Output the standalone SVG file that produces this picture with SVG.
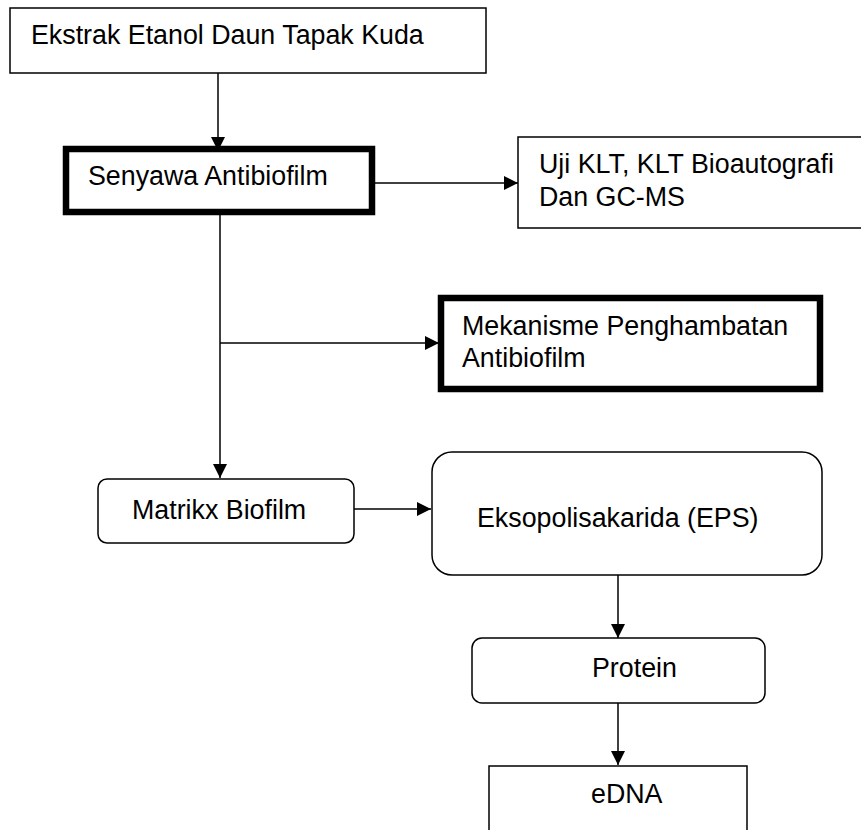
<svg xmlns="http://www.w3.org/2000/svg" width="861" height="830" viewBox="0 0 861 830">
<defs>
<style>
.box{fill:#fff;stroke:#000;stroke-width:1.5}
.thick{fill:#fff;stroke:#000;stroke-width:6.5}
.lbl{font-family:"Liberation Sans",Arial,sans-serif;font-size:26.8px;fill:#000}
.con{fill:none;stroke:#000;stroke-width:1.5}
</style>
<marker id="ah" markerUnits="userSpaceOnUse" markerWidth="15" markerHeight="15" refX="14" refY="7.5" orient="auto">
<path d="M0,0.5 L14,7.5 L0,14.5 z" fill="#000"/>
</marker>
</defs>
<rect width="861" height="830" fill="#fff"/>
<g id="connectors">
<line class="con" x1="218" y1="73" x2="218" y2="151" marker-end="url(#ah)"/>
<line class="con" x1="375" y1="183" x2="518" y2="183" marker-end="url(#ah)"/>
<line class="con" x1="220" y1="215" x2="220" y2="478" marker-end="url(#ah)"/>
<line class="con" x1="220" y1="343" x2="439" y2="343" marker-end="url(#ah)"/>
<line class="con" x1="354" y1="509" x2="431" y2="509" marker-end="url(#ah)"/>
<line class="con" x1="618" y1="575" x2="618" y2="638" marker-end="url(#ah)"/>
<line class="con" x1="618" y1="703" x2="618" y2="765" marker-end="url(#ah)"/>
</g>
<g id="ekstrak">
<rect class="box" x="10" y="8" width="476" height="65"/>
<text class="lbl" x="31" y="44">Ekstrak Etanol Daun Tapak Kuda</text>
</g>
<g id="senyawa">
<rect class="thick" x="66" y="149" width="306" height="63"/>
<text class="lbl" x="88" y="185">Senyawa Antibiofilm</text>
</g>
<g id="uji">
<rect class="box" x="518" y="137" width="360" height="91"/>
<text class="lbl" x="539" y="173">Uji KLT, KLT Bioautografi</text>
<text class="lbl" x="539" y="206">Dan GC-MS</text>
</g>
<g id="mekanisme">
<rect class="thick" x="441" y="298" width="379" height="91"/>
<text class="lbl" x="462" y="335">Mekanisme Penghambatan</text>
<text class="lbl" x="462" y="367">Antibiofilm</text>
</g>
<g id="matrikx">
<rect class="box" x="98" y="479" width="256" height="64" rx="9"/>
<text class="lbl" x="132" y="519">Matrikx Biofilm</text>
</g>
<g id="eps">
<rect class="box" x="432" y="452" width="390" height="123" rx="20"/>
<text class="lbl" x="477" y="527">Eksopolisakarida (EPS)</text>
</g>
<g id="protein">
<rect class="box" x="472" y="638" width="293" height="65" rx="10"/>
<text class="lbl" x="592" y="677">Protein</text>
</g>
<g id="edna">
<rect class="box" x="489" y="766" width="258" height="90"/>
<text class="lbl" x="591" y="803">eDNA</text>
</g>
</svg>
